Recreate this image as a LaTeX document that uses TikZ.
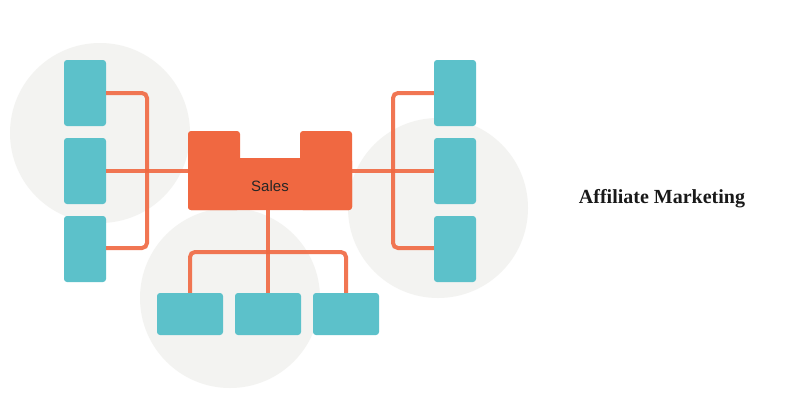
\documentclass[tikz,border=0pt]{standalone}
\usepackage{fontspec}
\setmainfont{Liberation Serif}
\setsansfont{Liberation Sans}
\begin{document}
\begin{tikzpicture}[x=1pt,y=-1pt,
  teal/.style={fill=tealc,rounded corners=3pt},
  wire/.style={draw=orangec,line width=4pt,rounded corners=5pt,opacity=0.9},
  circ/.style={fill=circc}]
\definecolor{tealc}{HTML}{5CC1CA}
\definecolor{orangec}{HTML}{F06841}
\definecolor{circc}{HTML}{F3F3F1}
\useasboundingbox (0,0) rectangle (800,400);
\fill[white] (0,0) rectangle (800,400);
\fill[circ] (100,133) circle (90);
\fill[circ] (230,298) circle (90);
\fill[circ] (438,208) circle (90);
% teal boxes
\node[teal,minimum width=42pt,minimum height=66pt,inner sep=0] (l1) at (85,93) {};
\node[teal,minimum width=42pt,minimum height=66pt,inner sep=0] (l2) at (85,171) {};
\node[teal,minimum width=42pt,minimum height=66pt,inner sep=0] (l3) at (85,249) {};
\node[teal,minimum width=42pt,minimum height=66pt,inner sep=0] (r1) at (455,93) {};
\node[teal,minimum width=42pt,minimum height=66pt,inner sep=0] (r2) at (455,171) {};
\node[teal,minimum width=42pt,minimum height=66pt,inner sep=0] (r3) at (455,249) {};
\node[teal,minimum width=66pt,minimum height=42pt,inner sep=0] (b1) at (190,314) {};
\node[teal,minimum width=66pt,minimum height=42pt,inner sep=0] (b2) at (268,314) {};
\node[teal,minimum width=66pt,minimum height=42pt,inner sep=0] (b3) at (346,314) {};
% sales shape
\fill[orangec,rounded corners=3pt] (188,131) rectangle (240,210);
\fill[orangec,rounded corners=3pt] (300,131) rectangle (352,210);
\fill[orangec,rounded corners=3pt] (188,158) rectangle (352,210);
\node[font=\sffamily\fontsize{15}{18}\selectfont,text=black!85] (s) at (270,186) {Sales};
\coordinate (sl) at (188,171);
\coordinate (sr) at (352,171);
\coordinate (sb) at (268,210);
% wires
\draw[wire] (l1.east) -- (147,93) -- (147,248) -- (l3.east|-0,248);
\draw[wire] (l2.east) -- (sl);
\draw[wire] (r1.west) -- (393,93) -- (393,248) -- (r3.west|-0,248);
\draw[wire] (sr) -- (r2.west);
\draw[wire] (sb) -- (b2.north);
\draw[wire] (b1.north) -- (190,252) -- (346,252) -- (b3.north);
\node[font=\bfseries\fontsize{20}{24}\selectfont,text=black!90] (t) at (662,199) {Affiliate Marketing};
\end{tikzpicture}
\end{document}
